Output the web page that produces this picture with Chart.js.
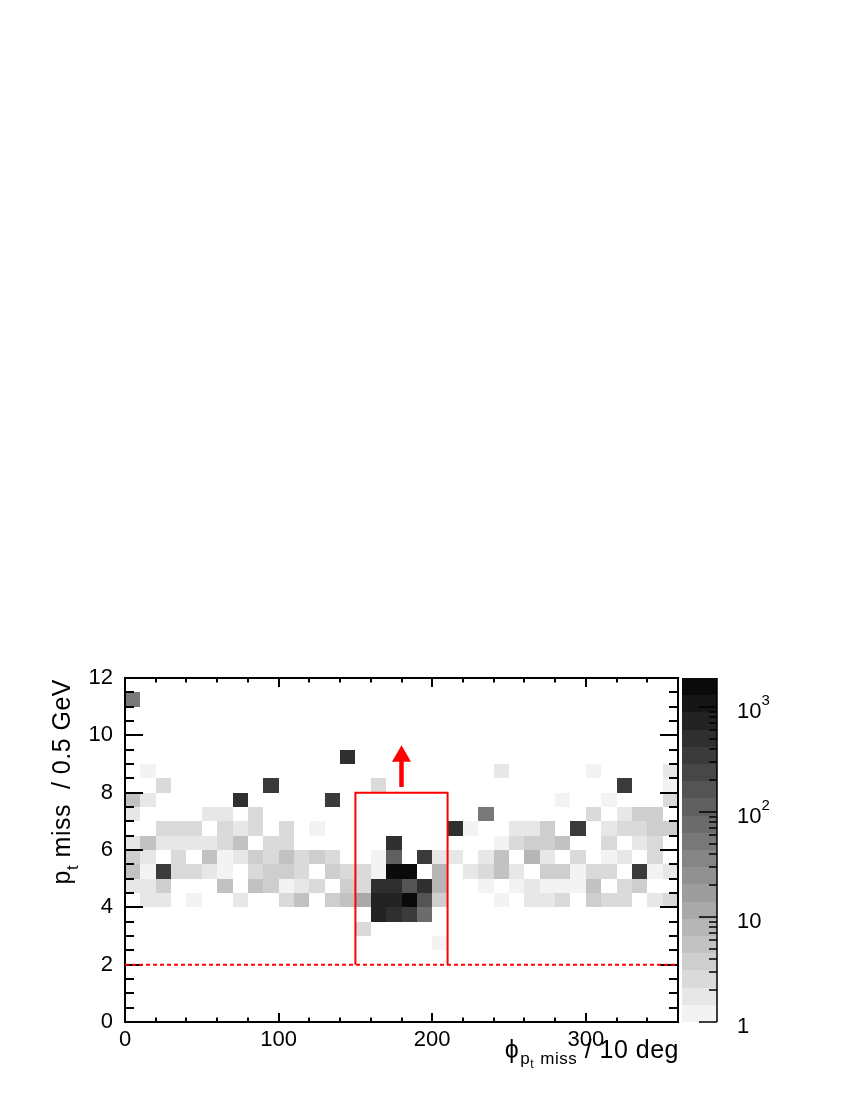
<!DOCTYPE html>
<html>
<head>
<meta charset="utf-8">
<script src="https://cdn.jsdelivr.net/npm/chart.js@4.4.1/dist/chart.umd.min.js"></script>
<style>
    html, body { margin: 0; padding: 0; background: #ffffff; }
    #wrap { width: 850px; height: 1100px; }
</style>
</head>
<body>
<div id="wrap"><canvas id="histChart" width="850" height="1100"></canvas></div>
<script>
// binning of the 2D histogram
const X_MIN = 0;
const X_MAX = 360;
const X_BIN = 10;
const Y_MIN = 0;
const Y_MAX = 12;
const Y_BIN = 0.5;
const Z_MAX = 1890;

// counts per phi bin (36 bins of 10 deg), one array per pt bin (lower edge in GeV)
const ROW_2_5 = [0,0,0,0,0,0,0,0,0,0, 0,0,0,0,0,0,0,0,0,0, 1,0,0,0,0,0,0,0,0,0, 0,0,0,0,0,0];
const ROW_3_0 = [0,0,0,0,0,0,0,0,0,0, 0,0,0,0,0,3,0,0,0,0, 0,0,0,0,0,0,0,0,0,0, 0,0,0,0,0,0];
const ROW_3_5 = [0,0,0,0,0,0,0,0,0,0, 0,0,0,0,0,0,750,500,350,80, 0,0,0,0,0,0,0,0,0,0, 0,0,0,0,0,0];
const ROW_4_0 = [0,2,2,0,1,0,0,2,0,0, 3,5,0,4,5,12,750,750,1600,160, 4,0,0,0,1,0,2,2,3,0, 4,3,3,0,2,3];
const ROW_4_5 = [2,2,4,0,0,0,5,0,5,4, 1,2,3,0,4,3,500,500,160,500, 8,0,0,1,0,1,2,1,1,1, 5,0,3,4,0,0];
const ROW_5_0 = [5,1,350,3,3,2,1,0,3,4, 4,3,0,4,3,3,1,1600,1600,0, 8,0,2,3,5,2,0,4,4,1, 3,3,0,350,1,2];
const ROW_5_5 = [4,2,0,3,0,5,1,2,4,3, 5,3,4,3,0,0,1,110,0,350, 2,2,0,2,5,0,8,2,0,3, 0,1,2,0,3,0];
const ROW_6_0 = [2,5,2,2,2,2,3,5,0,3, 3,0,0,0,0,0,0,500,0,0, 0,0,0,0,1,3,4,4,5,0, 0,3,0,2,3,0];
const ROW_6_5 = [0,0,3,3,3,0,3,2,3,0, 3,0,1,0,0,0,0,0,0,0, 0,500,1,0,0,2,2,4,0,350, 0,2,3,3,4,4];
const ROW_7_0 = [2,0,0,0,0,2,2,0,3,0, 0,0,0,0,0,0,0,0,0,0, 0,0,0,50,0,0,0,0,0,0, 3,0,2,4,4,0];
const ROW_7_5 = [5,2,0,0,0,0,0,500,0,0, 0,0,0,350,0,0,0,0,0,0, 0,0,0,0,0,0,0,0,1,0, 0,1,0,0,0,3];
const ROW_8_0 = [0,0,3,0,0,0,0,0,0,350, 0,0,0,0,0,0,3,0,0,0, 0,0,0,0,0,0,0,0,0,0, 0,0,350,0,0,1];
const ROW_8_5 = [0,1,0,0,0,0,0,0,0,0, 0,0,0,0,0,0,0,0,0,0, 0,0,0,0,2,0,0,0,0,0, 1,0,0,0,0,2];
const ROW_9_0 = [0,0,0,0,0,0,0,0,0,0, 0,0,0,0,500,0,0,0,0,0, 0,0,0,0,0,0,0,0,0,0, 0,0,0,0,0,0];
const ROW_11_0 = [50,0,0,0,0,0,0,0,0,0, 0,0,0,0,0,0,0,0,0,0, 0,0,0,0,0,0,0,0,0,0, 0,0,0,0,0,0];

const ROWS = [
    [2.5, ROW_2_5], [3.0, ROW_3_0], [3.5, ROW_3_5], [4.0, ROW_4_0], [4.5, ROW_4_5],
    [5.0, ROW_5_0], [5.5, ROW_5_5], [6.0, ROW_6_0], [6.5, ROW_6_5], [7.0, ROW_7_0],
    [7.5, ROW_7_5], [8.0, ROW_8_0], [8.5, ROW_8_5], [9.0, ROW_9_0], [11.0, ROW_11_0]
];

// red selection overlay
const CUT_BOX_X = [150, 150, 210, 210];
const CUT_BOX_Y = [2, 8, 8, 2];
const THRESHOLD_X = [0, 360];
const THRESHOLD_Y = [2, 2];
const ARROW_X = [180, 180];
const ARROW_Y = [8.2, 9.1];
const ARROW_TIP = [{ x: 180, y: 9.27 }];

// tick labels
const X_TICKS = [0, 100, 200, 300];
const Y_TICKS = [0, 2, 4, 6, 8, 10, 12];
const Z_TICKS = [1, 10, 100, 1000];
const Z_TICK_BASES = ['1', '10', '10', '10'];
const Z_TICK_EXPONENTS = ['', '', '2', '3'];

const FONT = "'Liberation Sans', Arial, Helvetica, sans-serif";
const N_LEVELS = 20;
const PALETTE = Array.from({ length: N_LEVELS }, (_, k) => {
    const g = Math.round(243 - k * 233 / (N_LEVELS - 1));
    return `rgb(${g},${g},${g})`;
});

function colorFor(v) {
    const level = Math.floor(Math.log10(v) / Math.log10(Z_MAX) * N_LEVELS);
    return PALETTE[Math.max(0, Math.min(N_LEVELS - 1, level))];
}

function toPoints(xs, ys) {
    return xs.map((x, i) => ({ x: x, y: ys[i] }));
}

const histPlugin = {
    id: 'hist2d',
    beforeDatasetsDraw(chart) {
        const { ctx, chartArea: a, scales: { x, y, zColor } } = chart;
        ctx.save();

        // histogram cells
        for (const [yLow, row] of ROWS) {
            const top = Math.round(y.getPixelForValue(yLow + Y_BIN));
            const bottom = Math.round(y.getPixelForValue(yLow));
            row.forEach((v, i) => {
                if (!v) return;
                const left = Math.round(x.getPixelForValue(X_MIN + i * X_BIN));
                const right = Math.round(x.getPixelForValue(X_MIN + (i + 1) * X_BIN));
                ctx.fillStyle = colorFor(v);
                ctx.fillRect(left, top, right - left, bottom - top);
            });
        }

        ctx.strokeStyle = '#000';
        ctx.lineWidth = 2;
        ctx.strokeRect(a.left, a.top, a.right - a.left, a.bottom - a.top);

        // ticks on all four sides, pointing inward
        ctx.beginPath();
        for (let v = X_MIN; v <= X_MAX; v += 20) {
            const px = Math.round(x.getPixelForValue(v));
            const len = v % 100 === 0 ? 9 : 4.5;
            ctx.moveTo(px, a.bottom); ctx.lineTo(px, a.bottom - len);
            ctx.moveTo(px, a.top); ctx.lineTo(px, a.top + len);
        }
        for (let v = Y_MIN; v <= Y_MAX; v += Y_BIN) {
            const py = Math.round(y.getPixelForValue(v));
            const len = v % 2 === 0 ? 18 : 9;
            ctx.moveTo(a.left, py); ctx.lineTo(a.left + len, py);
            ctx.moveTo(a.right, py); ctx.lineTo(a.right - len, py);
        }
        ctx.stroke();

        // colour bar
        const barLeft = a.right + 4;
        const barRight = a.right + 39;
        const logMax = Math.log10(Z_MAX);
        for (let k = 0; k < N_LEVELS; k++) {
            const lo = Math.pow(10, k * logMax / N_LEVELS);
            const hi = Math.pow(10, (k + 1) * logMax / N_LEVELS);
            const top = Math.round(zColor.getPixelForValue(hi));
            const bottom = Math.round(zColor.getPixelForValue(lo));
            ctx.fillStyle = PALETTE[k];
            ctx.fillRect(barLeft, top, barRight - barLeft, bottom - top);
        }
        ctx.lineWidth = 1.5;
        ctx.beginPath();
        ctx.moveTo(barRight, a.top); ctx.lineTo(barRight, a.bottom);
        for (const decade of Z_TICKS) {
            for (let m = 1; m <= 9; m++) {
                const v = decade * m;
                if (v > Z_MAX) break;
                const py = Math.round(zColor.getPixelForValue(v));
                const len = m === 1 ? 18 : 8;
                ctx.moveTo(barRight, py); ctx.lineTo(barRight - len, py);
            }
        }
        ctx.stroke();

        // colour bar labels with superscript exponents
        ctx.fillStyle = '#000';
        ctx.textAlign = 'left';
        ctx.textBaseline = 'alphabetic';
        Z_TICKS.forEach((v, i) => {
            const py = zColor.getPixelForValue(v);
            const lx = a.right + 59;
            ctx.font = '22px ' + FONT;
            ctx.fillText(Z_TICK_BASES[i], lx, py + 11);
            if (Z_TICK_EXPONENTS[i]) {
                const w = ctx.measureText(Z_TICK_BASES[i]).width;
                ctx.font = '15px ' + FONT;
                ctx.fillText(Z_TICK_EXPONENTS[i], lx + w, py - 2);
            }
        });
        ctx.restore();
    },
    afterDraw(chart) {
        const { ctx, chartArea: a } = chart;
        const main = '25px ' + FONT;
        const sub = '17px ' + FONT;
        const subsub = '12px ' + FONT;
        ctx.save();
        ctx.fillStyle = '#000';
        ctx.textBaseline = 'alphabetic';
        ctx.textAlign = 'left';
        ctx.letterSpacing = '0.5px';

        function drawPieces(pieces, endX, baseY) {
            let total = 0;
            for (const p of pieces) {
                ctx.font = p.f;
                p.w = ctx.measureText(p.t).width;
                total += p.w + (p.gap || 0);
            }
            let cx = endX - total;
            for (const p of pieces) {
                ctx.font = p.f;
                ctx.fillText(p.t, cx, baseY + p.dy);
                cx += p.w + (p.gap || 0);
            }
        }

        // x axis title
        drawPieces([
            { t: '\u03D5', f: main, dy: 0, gap: 1 },
            { t: 'p', f: sub, dy: 6 },
            { t: 't', f: subsub, dy: 10, gap: 1 },
            { t: ' miss', f: sub, dy: 6 },
            { t: ' / 10 deg', f: main, dy: 0 }
        ], a.right + 1, a.bottom + 36);

        // y axis title, rotated
        ctx.translate(a.left - 55, a.top + 1);
        ctx.rotate(-Math.PI / 2);
        drawPieces([
            { t: 'p', f: main, dy: 0 },
            { t: 't', f: sub, dy: 8 },
            { t: ' miss  / 0.5 GeV', f: main, dy: 0 }
        ], 0, 0);
        ctx.restore();
    }
};

const tickFont = { family: FONT, size: 22 };

new Chart(document.getElementById('histChart').getContext('2d'), {
    type: 'scatter',
    data: {
        datasets: [
            {
                label: 'cut box',
                data: toPoints(CUT_BOX_X, CUT_BOX_Y),
                showLine: true,
                borderColor: '#ff0000',
                borderWidth: 2,
                pointRadius: 0,
                tension: 0
            },
            {
                label: 'threshold',
                data: toPoints(THRESHOLD_X, THRESHOLD_Y),
                showLine: true,
                borderColor: '#ff0000',
                borderWidth: 2,
                borderDash: [4, 3],
                pointRadius: 0
            },
            {
                label: 'arrow',
                data: toPoints(ARROW_X, ARROW_Y),
                showLine: true,
                borderColor: '#ff0000',
                borderWidth: 4.5,
                pointRadius: 0
            },
            {
                label: 'arrow head',
                data: ARROW_TIP,
                pointStyle: 'triangle',
                pointRadius: 11,
                backgroundColor: '#ff0000',
                borderColor: '#ff0000',
                pointBorderWidth: 0
            }
        ]
    },
    options: {
        responsive: false,
        animation: false,
        events: [],
        layout: { padding: { top: 678, left: 0, right: 0, bottom: 0 } },
        plugins: {
            legend: { display: false },
            tooltip: { enabled: false }
        },
        scales: {
            x: {
                type: 'linear',
                position: 'bottom',
                min: X_MIN,
                max: X_MAX,
                afterBuildTicks: s => { s.ticks = X_TICKS.map(value => ({ value })); },
                afterFit: s => { s.height = 78; },
                grid: { display: false, drawTicks: false },
                border: { display: false },
                ticks: { font: tickFont, color: '#000', padding: 5, maxRotation: 0, autoSkip: false }
            },
            y: {
                type: 'linear',
                position: 'left',
                min: Y_MIN,
                max: Y_MAX,
                afterBuildTicks: s => { s.ticks = Y_TICKS.map(value => ({ value })); },
                afterFit: s => { s.width = 125; },
                grid: { display: false, drawTicks: false },
                border: { display: false },
                ticks: { font: tickFont, color: '#000', padding: 12, autoSkip: false }
            },
            zColor: {
                type: 'logarithmic',
                axis: 'y',
                position: 'right',
                min: 1,
                max: Z_MAX,
                afterBuildTicks: s => { s.ticks = Z_TICKS.map(value => ({ value })); },
                afterFit: s => { s.width = 172; },
                grid: { display: false, drawTicks: false },
                border: { display: false },
                ticks: { display: false }
            }
        }
    },
    plugins: [histPlugin]
});
</script>
</body>
</html>
